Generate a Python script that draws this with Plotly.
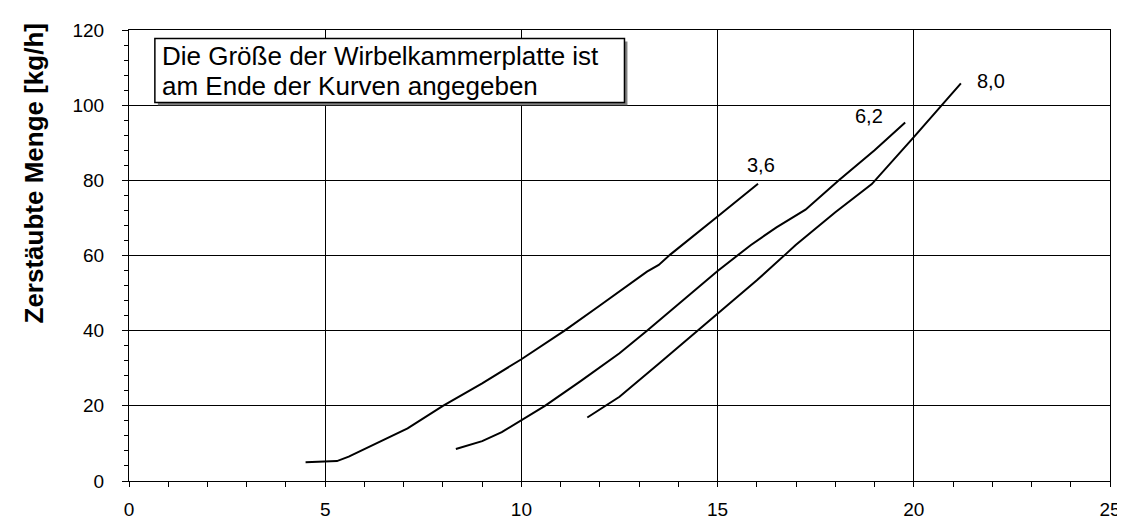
import plotly.graph_objects as go

# Data
x_36 = [4.5, 5.0, 5.3, 5.6, 6.0, 7.1, 8.0, 9.0, 10.0, 11.1, 12.0, 13.0, 13.2, 13.5, 13.8, 15.0, 16.03]
y_36 = [5.0, 5.1, 5.3, 6.5, 8.5, 14.0, 20.0, 26.0, 32.4, 40.0, 46.7, 54.2, 55.7, 57.5, 60.3, 70.4, 79.1]

x_62 = [8.33, 9.0, 9.5, 10.0, 10.6, 11.5, 12.5, 13.2, 14.0, 15.0, 15.85, 16.5, 17.24, 18.09, 19.0, 19.78]
y_62 = [8.5, 10.6, 13.0, 16.1, 20.0, 26.5, 34.0, 40.0, 47.0, 55.9, 62.8, 67.5, 72.2, 80.0, 88.0, 95.4]

x_80 = [11.68, 12.5, 13.5, 14.5, 15.0, 16.0, 16.73, 16.99, 18.0, 18.93, 20.0, 20.71, 21.2]
y_80 = [16.9, 22.4, 31.2, 40.0, 44.4, 53.4, 60.3, 62.8, 71.5, 79.0, 91.5, 100.0, 105.8]

series = [("3,6", x_36, y_36, 3, 19), ("6,2", x_62, y_62, -36, 6), ("8,0", x_80, y_80, 30, 2)]

x_ticks = [0, 5, 10, 15, 20, 25]
y_ticks = [0, 20, 40, 60, 80, 100, 120]

y_title = "Zerstäubte Menge [kg/h]"
note_lines = ["Die Größe der Wirbelkammerplatte ist", "am Ende der Kurven angegeben"]

FONT = "Liberation Sans, Arial, sans-serif"

fig = go.Figure()
for name, xs, ys, dx, dy in series:
    fig.add_trace(go.Scatter(x=xs, y=ys, mode="lines", name=name,
                             line=dict(color="black", width=2), showlegend=False,
                             hoverinfo="skip"))
    fig.add_annotation(x=xs[-1], y=ys[-1], text=name, showarrow=False,
                       xshift=dx, yshift=dy, font=dict(family=FONT, size=20, color="black"))

W, H = 1125, 524
ml, mr, mt, mb = 121, 18, 15, 36
pw, ph = W - ml - mr, H - mt - mb

def px_x(p):
    return (p - ml) / pw

def px_y(p):
    return (H - mb - p) / ph

# Note box with shadow
fig.add_shape(type="rect", xref="paper", yref="paper", x0=px_x(150), x1=px_x(622),
              y0=px_y(94), y1=px_y(27), fillcolor="#808080", line=dict(width=0), layer="above")
fig.add_shape(type="rect", xref="paper", yref="paper", x0=px_x(147), x1=px_x(619),
              y0=px_y(91), y1=px_y(24), fillcolor="white", line=dict(color="black", width=1.5), layer="above")
for i, line in enumerate(note_lines):
    fig.add_annotation(xref="paper", yref="paper", x=px_x(152), y=px_y(42.5 + 31 * i),
                       xanchor="left", yanchor="middle", text=line, showarrow=False,
                       font=dict(family=FONT, size=26, color="black"))

fig.add_annotation(xref="paper", yref="paper", x=px_x(26), y=px_y(165), text="<b>" + y_title + "</b>",
                   textangle=-90, showarrow=False, xanchor="center", yanchor="middle",
                   font=dict(family=FONT, size=26, color="black"))

fig.update_xaxes(range=[0, 25], tickvals=x_ticks, ticks="outside", ticklen=5, tickcolor="black",
                 showline=True, linecolor="black", linewidth=1, mirror=True,
                 showgrid=True, gridcolor="black", gridwidth=1, zeroline=False,
                 minor=dict(dtick=1, ticks="outside", ticklen=5, tickcolor="black", showgrid=False),
                 tickfont=dict(family=FONT, size=19, color="black"), ticklabelstandoff=6)
fig.update_yaxes(range=[0, 120], tickvals=y_ticks, ticks="outside", ticklen=6, tickcolor="black",
                 showline=True, linecolor="black", linewidth=1, mirror=True,
                 showgrid=True, gridcolor="black", gridwidth=1, zeroline=False,
                 minor=dict(dtick=4, ticks="outside", ticklen=4, tickcolor="black", showgrid=False),
                 tickfont=dict(family=FONT, size=19, color="black"), ticklabelstandoff=14)

fig.update_layout(width=W, height=H, margin=dict(l=ml, r=mr, t=mt, b=mb),
                  paper_bgcolor="white", plot_bgcolor="white", showlegend=False,
                  font=dict(family=FONT, color="black"))

fig.write_html("out.html")
